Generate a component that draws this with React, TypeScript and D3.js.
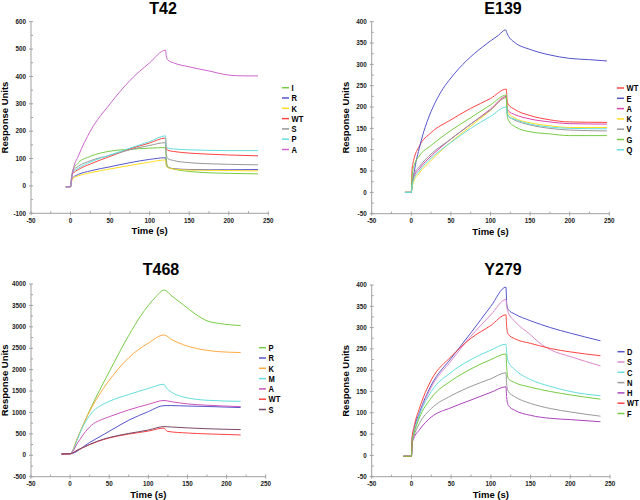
import React from 'react';
import * as d3 from 'd3';

type Pt = [number, number];

// ---- T42 ----
const t42Labels = ['I', 'R', 'K', 'WT', 'S', 'P', 'A'];
const t42Colors = ['#77cc44', '#5555cc', '#ffdd22', '#ff4444', '#999999', '#66dddd', '#cc66cc'];
const t42I: Pt[] = [[-6, -3], [0, -3], [1, 25], [3, 58], [10, 85], [25, 108], [50, 127], [75, 134], [100, 138], [120, 140], [121, 100], [123, 70], [130, 62], [150, 53], [175, 48], [200, 46], [237, 44]];
const t42R: Pt[] = [[-6, -3], [0, -3], [1, 15], [3, 30], [10, 42], [25, 55], [50, 70], [75, 85], [100, 97], [120, 103], [121, 80], [123, 68], [130, 63], [150, 60], [175, 59], [200, 59], [237, 60]];
const t42K: Pt[] = [[-6, -3], [0, -3], [1, 12], [3, 28], [10, 37], [25, 48], [50, 62], [75, 75], [100, 87], [120, 95], [121, 75], [123, 67], [130, 62], [150, 58], [175, 57], [200, 56], [237, 55]];
const t42WT: Pt[] = [[-6, -3], [0, -3], [1, 20], [3, 45], [10, 60], [25, 80], [50, 108], [75, 135], [100, 157], [120, 175], [121, 140], [123, 130], [130, 126], [150, 120], [175, 116], [200, 113], [237, 110]];
const t42S: Pt[] = [[-6, -3], [0, -3], [1, 25], [3, 55], [10, 72], [25, 92], [50, 112], [75, 132], [100, 148], [120, 158], [121, 115], [123, 100], [130, 93], [150, 85], [175, 81], [200, 79], [237, 77]];
const t42P: Pt[] = [[-6, -3], [0, -3], [1, 22], [3, 50], [10, 65], [25, 87], [50, 113], [75, 138], [100, 162], [120, 183], [121, 145], [123, 138], [130, 135], [150, 132], [175, 130], [200, 129], [237, 129]];
const t42A: Pt[] = [[-6, -3], [0, -3], [1, 20], [3, 55], [10, 110], [25, 200], [50, 300], [75, 385], [100, 450], [120, 496], [121, 475], [123, 460], [130, 450], [150, 435], [175, 420], [200, 405], [220, 402], [237, 402]];

// ---- E139 ----
const e139Labels = ['WT', 'E', 'A', 'K', 'V', 'G', 'Q'];
const e139Colors = ['#ff4444', '#5555cc', '#dd44aa', '#ffdd22', '#999999', '#77cc44', '#66dddd'];
const e139WT: Pt[] = [[-8, 0], [0, 0], [1, 55], [3, 75], [10, 108], [25, 140], [50, 170], [75, 197], [100, 220], [120, 242], [121, 215], [123, 205], [130, 195], [150, 180], [175, 170], [200, 165], [247, 164]];
const e139E: Pt[] = [[-8, 0], [0, 0], [1, 15], [3, 40], [6, 72], [10, 103], [15, 138], [20, 166], [30, 210], [40, 243], [50, 268], [60, 290], [70, 309], [80, 326], [90, 341], [100, 355], [110, 368], [119, 381], [121, 372], [123, 365], [130, 352], [150, 335], [175, 322], [200, 314], [225, 311], [247, 308]];
const e139A: Pt[] = [[-8, 0], [0, 0], [1, 20], [3, 35], [10, 55], [25, 85], [50, 125], [75, 160], [100, 195], [120, 225], [121, 200], [123, 190], [130, 183], [150, 172], [175, 165], [200, 161], [247, 160]];
const e139K: Pt[] = [[-8, 0], [0, 0], [1, 12], [3, 25], [10, 45], [25, 75], [50, 118], [75, 155], [100, 192], [120, 222], [121, 195], [123, 185], [130, 175], [150, 163], [175, 156], [200, 152], [247, 152]];
const e139V: Pt[] = [[-8, 0], [0, 0], [1, 20], [3, 40], [10, 60], [25, 90], [50, 125], [75, 160], [100, 193], [120, 222], [121, 190], [123, 178], [130, 170], [150, 158], [175, 150], [200, 146], [247, 144]];
const e139G: Pt[] = [[-8, 0], [0, 0], [1, 35], [3, 60], [10, 85], [25, 110], [50, 145], [75, 175], [100, 205], [120, 228], [121, 180], [123, 168], [130, 155], [150, 142], [175, 137], [200, 133], [247, 133]];
const e139Q: Pt[] = [[-8, 0], [0, 0], [1, 15], [3, 30], [10, 50], [25, 80], [50, 117], [75, 150], [100, 178], [120, 200], [121, 185], [123, 178], [130, 172], [150, 160], [175, 153], [200, 150], [247, 149]];

// ---- T468 ----
const t468Labels = ['P', 'R', 'K', 'M', 'A', 'WT', 'S'];
const t468Colors = ['#77cc44', '#5555cc', '#ffaa44', '#66dddd', '#cc55bb', '#ff4444', '#7a4a6a'];
const t468P: Pt[] = [[-11, 30], [0, 35], [10, 430], [25, 1050], [50, 1950], [75, 2800], [90, 3250], [100, 3500], [110, 3710], [120, 3860], [130, 3720], [145, 3510], [160, 3300], [175, 3140], [190, 3080], [218, 3030]];
const t468R: Pt[] = [[-11, 30], [0, 35], [25, 300], [50, 560], [75, 820], [100, 1020], [120, 1160], [130, 1160], [150, 1150], [175, 1140], [218, 1115]];
const t468K: Pt[] = [[-11, 30], [0, 35], [10, 430], [25, 1030], [35, 1350], [50, 1750], [75, 2280], [100, 2620], [120, 2810], [130, 2700], [145, 2580], [160, 2500], [175, 2450], [190, 2420], [218, 2400]];
const t468M: Pt[] = [[-11, 30], [0, 35], [10, 400], [15, 620], [20, 790], [30, 1040], [40, 1170], [50, 1260], [75, 1420], [100, 1560], [120, 1660], [122, 1600], [130, 1470], [145, 1360], [160, 1310], [175, 1285], [218, 1260]];
const t468A: Pt[] = [[-11, 30], [0, 35], [10, 300], [20, 560], [30, 740], [40, 830], [50, 900], [75, 1060], [100, 1190], [120, 1280], [130, 1250], [150, 1200], [175, 1170], [218, 1135]];
const t468WT: Pt[] = [[-11, 30], [0, 35], [10, 125], [25, 250], [35, 320], [50, 405], [75, 495], [100, 565], [120, 635], [122, 600], [124, 560], [150, 520], [175, 500], [218, 475]];
const t468S: Pt[] = [[-11, 30], [0, 35], [10, 128], [25, 255], [35, 330], [50, 415], [75, 510], [100, 590], [120, 670], [130, 660], [150, 640], [175, 620], [218, 600]];

// ---- Y279 ----
const y279Labels = ['D', 'S', 'C', 'N', 'H', 'WT', 'F'];
const y279Colors = ['#5555cc', '#dd88cc', '#66dddd', '#999999', '#aa44bb', '#ff4444', '#77cc44'];
const y279D: Pt[] = [[-10, -2], [0, -2], [1, 40], [3, 60], [10, 100], [25, 165], [50, 228], [75, 288], [100, 350], [119, 395], [120, 355], [122, 342], [130, 332], [150, 316], [175, 300], [200, 287], [238, 269]];
const y279S: Pt[] = [[-10, -2], [0, -2], [1, 40], [3, 55], [10, 95], [25, 160], [50, 222], [75, 280], [100, 330], [119, 366], [120, 350], [122, 335], [130, 315], [150, 283], [160, 266], [175, 248], [200, 232], [238, 210]];
const y279C: Pt[] = [[-10, -2], [0, -2], [1, 38], [3, 55], [10, 95], [25, 150], [50, 195], [75, 225], [100, 247], [119, 261], [120, 240], [122, 220], [130, 202], [150, 178], [175, 162], [200, 150], [238, 140]];
const y279N: Pt[] = [[-10, -2], [0, -2], [1, 32], [3, 45], [10, 75], [25, 110], [50, 140], [75, 162], [100, 180], [119, 194], [120, 165], [122, 150], [130, 138], [150, 122], [175, 110], [200, 102], [238, 92]];
const y279H: Pt[] = [[-10, -2], [0, -2], [1, 28], [3, 40], [10, 60], [25, 90], [50, 112], [75, 130], [100, 148], [119, 161], [120, 135], [122, 117], [130, 106], [150, 94], [175, 87], [200, 84], [238, 79]];
const y279WT: Pt[] = [[-10, -2], [0, -2], [1, 45], [3, 65], [10, 110], [25, 177], [50, 232], [75, 275], [100, 305], [119, 330], [120, 300], [122, 284], [130, 274], [150, 263], [160, 258], [175, 251], [200, 243], [238, 234]];
const y279F: Pt[] = [[-10, -2], [0, -2], [1, 35], [3, 50], [10, 88], [25, 135], [50, 175], [75, 203], [100, 225], [119, 238], [120, 205], [122, 180], [130, 171], [150, 160], [175, 150], [200, 142], [238, 132]];

const xTicks = [-50, 0, 50, 100, 150, 200, 250];

const FONT = '"Liberation Sans", Arial, Helvetica, sans-serif';

interface PanelProps {
  title: string;
  labels: string[];
  colors: string[];
  series: Pt[][];
  yDomain: [number, number];
  yStep: number;
  left: number;
  right: number;
  top: number;
  bottom: number;
  titleX: number;
  titleY: number;
  legX: number;
  legY: number;
}

const Panel = (p: PanelProps) => {
  const x = d3.scaleLinear().domain([-50, 250]).range([p.left, p.right]);
  const y = d3.scaleLinear().domain(p.yDomain).range([p.bottom, p.top]);
  const yTicks = d3.range(p.yDomain[0], p.yDomain[1] + 1, p.yStep);
  const yMinor = d3.range(p.yDomain[0] + p.yStep / 2, p.yDomain[1], p.yStep);
  const xMinor = d3.range(-25, 250, 50);
  const line = d3.line<Pt>().x(d => x(d[0])).y(d => y(d[1])).curve(d3.curveMonotoneX);
  const axisColor = '#a0a0a0';

  return (
    <g fontFamily={FONT}>
      <text x={p.titleX} y={p.titleY} textAnchor="middle" fontSize={16} fontWeight="bold">{p.title}</text>

      {/* axes */}
      <line x1={p.left} x2={p.left} y1={p.top} y2={p.bottom} stroke={axisColor} />
      <line x1={p.left} x2={p.right} y1={p.bottom} y2={p.bottom} stroke={axisColor} />
      {yTicks.map(t => (
        <g key={'y' + t}>
          <line x1={p.left - 2} x2={p.left + 2} y1={y(t)} y2={y(t)} stroke={axisColor} />
          <text x={p.left - 5} y={y(t) + 2.2} textAnchor="end" fontSize={6.3} fontWeight="bold" fill="#222">{t}</text>
        </g>
      ))}
      {yMinor.map(t => (
        <line key={'ym' + t} x1={p.left} x2={p.left + 2} y1={y(t)} y2={y(t)} stroke={axisColor} />
      ))}
      {xTicks.map(t => (
        <g key={'x' + t}>
          <line x1={x(t)} x2={x(t)} y1={p.bottom - 2} y2={p.bottom + 2} stroke={axisColor} />
          <text x={x(t)} y={p.bottom + 9.5} textAnchor="middle" fontSize={6.3} fontWeight="bold" fill="#222">{t}</text>
        </g>
      ))}
      {xMinor.map(t => (
        <line key={'xm' + t} x1={x(t)} x2={x(t)} y1={p.bottom - 2} y2={p.bottom} stroke={axisColor} />
      ))}

      <text x={(p.left + p.right) / 2} y={p.bottom + 21} textAnchor="middle" fontSize={9.5} fontWeight="bold">Time (s)</text>
      <text transform={`translate(${p.left - 23},${(p.top + p.bottom) / 2}) rotate(-90)`} textAnchor="middle" fontSize={9.5} fontWeight="bold">Response Units</text>

      {/* curves */}
      {p.series.map((s, i) => (
        <path key={'s' + i} d={line(s) || ''} fill="none" stroke={p.colors[i]} strokeWidth={1} />
      ))}

      {/* legend */}
      {p.labels.map((lab, i) => (
        <g key={'l' + lab} transform={`translate(${p.legX},${p.legY + i * 10.3})`}>
          <line x1={0} x2={7} y1={0} y2={0} stroke={p.colors[i]} strokeWidth={1.5} />
          <text transform="translate(9.5,3.2) scale(0.86,1)" fontSize={8.8} fontWeight="bold">{lab}</text>
        </g>
      ))}
    </g>
  );
};

export default function App() {
  return (
    <svg width={640} height={500} style={{ position: 'absolute', left: 0, top: 0, background: '#fff' }}>
      <rect width={640} height={500} fill="#fff" />
      <Panel title="T42" labels={t42Labels} colors={t42Colors}
        series={[t42I, t42R, t42K, t42WT, t42S, t42P, t42A]}
        yDomain={[-100, 600]} yStep={100}
        left={31} right={268.3} top={21.7} bottom={213.3}
        titleX={163} titleY={14} legX={282} legY={87.7} />
      <Panel title="E139" labels={e139Labels} colors={e139Colors}
        series={[e139WT, e139E, e139A, e139K, e139V, e139G, e139Q]}
        yDomain={[-50, 400]} yStep={50}
        left={371.7} right={609.3} top={21.7} bottom={213.7}
        titleX={503} titleY={14} legX={617} legY={88} />
      <Panel title="T468" labels={t468Labels} colors={t468Colors}
        series={[t468P, t468R, t468K, t468M, t468A, t468WT, t468S]}
        yDomain={[-500, 4000]} yStep={500}
        left={31} right={265.7} top={284} bottom={476.7}
        titleX={161} titleY={274.5} legX={259} legY={347.7} />
      <Panel title="Y279" labels={y279Labels} colors={y279Colors}
        series={[y279D, y279S, y279C, y279N, y279H, y279WT, y279F]}
        yDomain={[-50, 400]} yStep={50}
        left={371.7} right={610} top={285} bottom={476.7}
        titleX={503} titleY={274.5} legX={617.5} legY={351.7} />
    </svg>
  );
}
